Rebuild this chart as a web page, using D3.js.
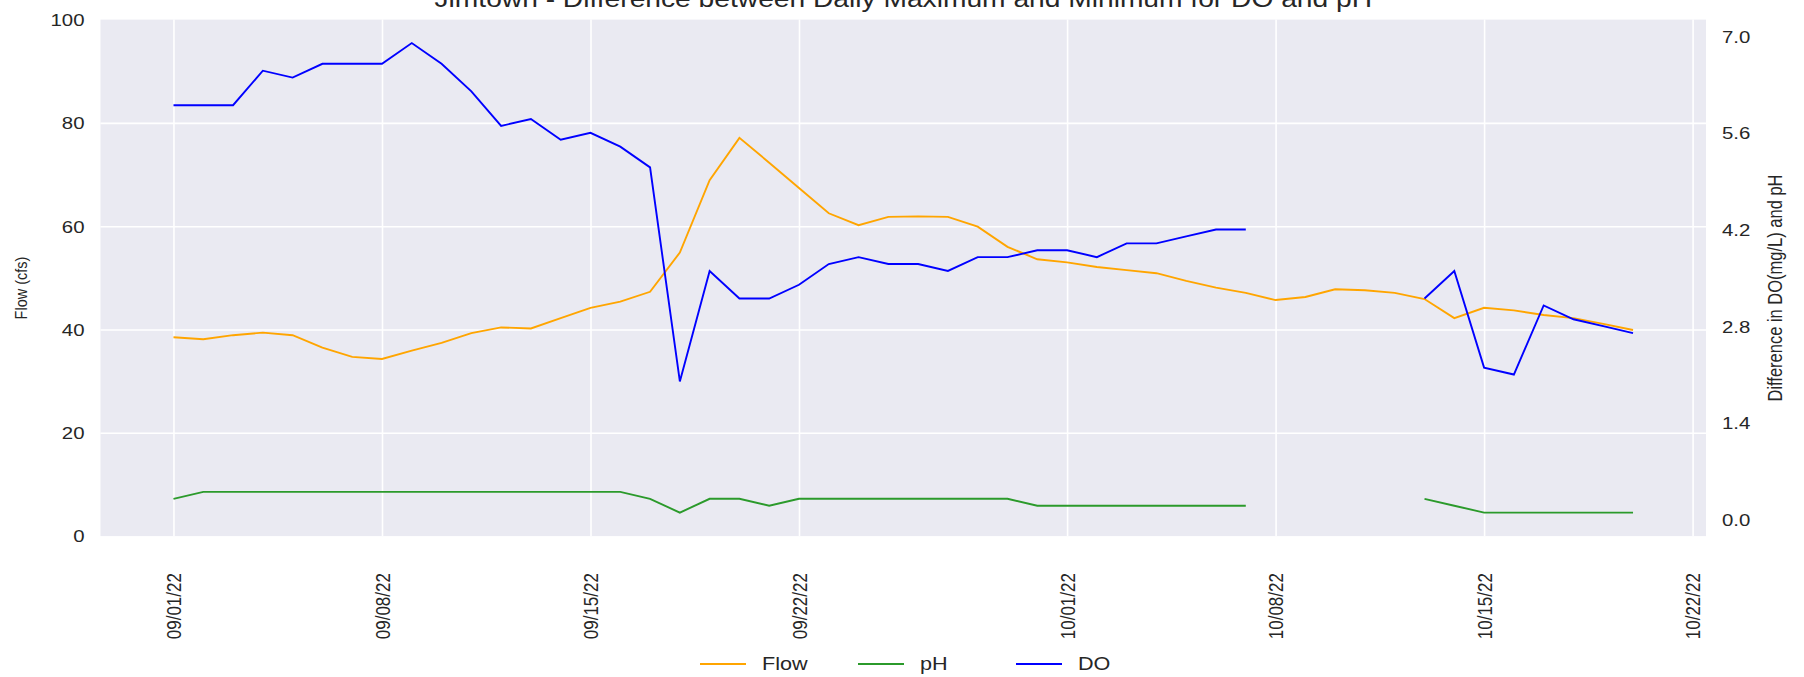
<!DOCTYPE html>
<html>
<head>
<meta charset="utf-8">
<script src="https://cdn.jsdelivr.net/npm/d3@7"></script>
<style>
  html, body { margin: 0; padding: 0; background: #ffffff; }
  svg { display: block; }
  text { font-family: "Liberation Sans", Arial, sans-serif; fill: #262626; }
</style>
</head>
<body>
<svg id="chart" width="1804" height="677"></svg>
<script>
// ---------- data ----------
const startDate = "2022-09-01";
const dayCount = 50; // 09/01/22 .. 10/20/22
const flow = [38.5, 38.1, 38.9, 39.4, 38.9, 36.5, 34.7, 34.3, 35.9, 37.4,
              39.3, 40.4, 40.2, 42.2, 44.2, 45.4, 47.3, 54.9, 68.9, 77.1,
              72.3, 67.4, 62.5, 60.2, 61.8, 61.9, 61.8, 59.9, 56.0, 53.6,
              53.0, 52.1, 51.5, 50.9, 49.4, 48.1, 47.1, 45.7, 46.3, 47.8,
              47.6, 47.1, 45.9, 42.2, 44.2, 43.7, 42.8, 42.2, 41.1, 39.9];
const ph = [0.3, 0.4, 0.4, 0.4, 0.4, 0.4, 0.4, 0.4, 0.4, 0.4,
            0.4, 0.4, 0.4, 0.4, 0.4, 0.4, 0.3, 0.1, 0.3, 0.3,
            0.2, 0.3, 0.3, 0.3, 0.3, 0.3, 0.3, 0.3, 0.3, 0.2,
            0.2, 0.2, 0.2, 0.2, 0.2, 0.2, 0.2, null, null, null,
            null, null, 0.3, 0.2, 0.1, 0.1, 0.1, 0.1, 0.1, 0.1];
const dO = [6.0, 6.0, 6.0, 6.5, 6.4, 6.6, 6.6, 6.6, 6.9, 6.6,
            6.2, 5.7, 5.8, 5.5, 5.6, 5.4, 5.1, 2.0, 3.6, 3.2,
            3.2, 3.4, 3.7, 3.8, 3.7, 3.7, 3.6, 3.8, 3.8, 3.9,
            3.9, 3.8, 4.0, 4.0, 4.1, 4.2, 4.2, null, null, null,
            null, null, 3.2, 3.6, 2.2, 2.1, 3.1, 2.9, 2.8, 2.7];
const leftTicks = [0, 20, 40, 60, 80, 100];
const rightTicks = [0.0, 1.4, 2.8, 4.2, 5.6, 7.0];
const dateTicks = ["2022-09-01", "2022-09-08", "2022-09-15", "2022-09-22",
                   "2022-10-01", "2022-10-08", "2022-10-15", "2022-10-22"];
const seriesNames = ["Flow", "pH", "DO"];
const seriesColors = ["#FFA500", "#2b9a2b", "#0000FF"];
const titleText = "Jimtown - Difference between Daily Maximum and Minimum for DO and pH";
const leftLabel = "Flow (cfs)";
const rightLabel = "Difference in DO(mg/L) and pH";

// ---------- layout ----------
const SX = 1.2; // horizontal stretch of text seen in the reference
const plot = { left: 100.5, right: 1706, top: 19.6, bottom: 536.1 };
const parse = d3.timeParse("%Y-%m-%d");
const DAY = 86400000;
const t0 = parse(startDate);
const dates = d3.range(dayCount).map(i => new Date(t0.getTime() + i * DAY));
const pad = 0.05 * (dayCount - 1) * DAY;

const x = d3.scaleTime()
  .domain([new Date(dates[0].getTime() - pad), new Date(dates[dayCount - 1].getTime() + pad)])
  .range([plot.left, plot.right]);
const yL = d3.scaleLinear().domain([0, 100]).range([plot.bottom, plot.top]);
const yR = d3.scaleLinear().domain([-0.24, 7.24]).range([plot.bottom, plot.top]);

const svg = d3.select("#chart");

// plot background
svg.append("rect")
  .attr("x", plot.left).attr("y", plot.top)
  .attr("width", plot.right - plot.left).attr("height", plot.bottom - plot.top)
  .attr("fill", "#EAEAF2");

// grid
const gridX = svg.append("g")
  .attr("transform", `translate(0,${plot.bottom})`)
  .call(d3.axisBottom(x).tickValues(dateTicks.map(parse))
        .tickSize(-(plot.bottom - plot.top)).tickFormat(""));
const gridY = svg.append("g")
  .attr("transform", `translate(${plot.left},0)`)
  .call(d3.axisLeft(yL).tickValues(leftTicks.filter(v => v > 0 && v < 100))
        .tickSize(-(plot.right - plot.left)).tickFormat(""));
[gridX, gridY].forEach(g => {
  g.select(".domain").remove();
  g.selectAll("line").attr("stroke", "#ffffff").attr("stroke-width", 1.6);
});

// lines
const lineL = d3.line().defined(d => d.v != null).x(d => x(d.t)).y(d => yL(d.v));
const lineR = d3.line().defined(d => d.v != null).x(d => x(d.t)).y(d => yR(d.v));
const toPts = arr => arr.map((v, i) => ({ t: dates[i], v }));

svg.append("path").datum(toPts(flow)).attr("d", lineL)
  .attr("fill", "none").attr("stroke", seriesColors[0]).attr("stroke-width", 1.9);
svg.append("path").datum(toPts(ph)).attr("d", lineR)
  .attr("fill", "none").attr("stroke", seriesColors[1]).attr("stroke-width", 1.9);
svg.append("path").datum(toPts(dO)).attr("d", lineR)
  .attr("fill", "none").attr("stroke", seriesColors[2]).attr("stroke-width", 1.9);

// helper to stretch text horizontally around its anchor
function stretch(sel, rot) {
  sel.each(function () {
    const t = d3.select(this);
    const tx = +t.attr("x") || 0, ty = +t.attr("y") || 0;
    t.attr("x", 0).attr("y", 0)
     .attr("transform", `translate(${tx},${ty}) scale(${SX},1)` + (rot ? ` rotate(${rot})` : ""));
  });
}

// left axis
const axL = svg.append("g").attr("transform", `translate(${plot.left},0)`)
  .call(d3.axisLeft(yL).tickValues(leftTicks).tickSize(0).tickPadding(16).tickFormat(d3.format("d")));
axL.select(".domain").remove();
axL.selectAll("text").attr("font-size", 17).attr("fill", "#262626")
  .attr("dy", null).attr("dominant-baseline", "central")
  .attr("font-family", "Liberation Sans, Arial, sans-serif");
stretch(axL.selectAll("text"));

// right axis
const axR = svg.append("g").attr("transform", `translate(${plot.right},0)`)
  .call(d3.axisRight(yR).tickValues(rightTicks).tickSize(0).tickPadding(16).tickFormat(d3.format(".1f")));
axR.select(".domain").remove();
axR.selectAll("text").attr("font-size", 17).attr("fill", "#262626")
  .attr("dy", null).attr("dominant-baseline", "central")
  .attr("font-family", "Liberation Sans, Arial, sans-serif");
stretch(axR.selectAll("text"));

// bottom axis (rotated dates)
const axB = svg.append("g").attr("transform", `translate(0,${plot.bottom})`)
  .call(d3.axisBottom(x).tickValues(dateTicks.map(parse)).tickSize(0).tickFormat(d3.timeFormat("%m/%d/%y")));
axB.select(".domain").remove();
axB.selectAll("text")
  .attr("font-size", 17).attr("fill", "#262626")
  .attr("font-family", "Liberation Sans, Arial, sans-serif")
  .attr("dy", null).attr("y", 37).attr("x", 0)
  .attr("text-anchor", "end").attr("dominant-baseline", "central");
stretch(axB.selectAll("text"), -90);

// axis labels
svg.append("text").text(leftLabel)
  .attr("font-size", 14.5).attr("text-anchor", "middle").attr("dominant-baseline", "central")
  .attr("transform", `translate(21,288) scale(${SX},1) rotate(-90)`);
svg.append("text").text(rightLabel)
  .attr("font-size", 16.5).attr("text-anchor", "middle").attr("dominant-baseline", "central")
  .attr("transform", `translate(1775,288) scale(${SX},1) rotate(-90)`);

// title
svg.append("text").text(titleText)
  .attr("font-size", 23.5).attr("text-anchor", "middle")
  .attr("transform", `translate(${(plot.left + plot.right) / 2},7) scale(${SX},1)`);

// legend
const legendX = [700, 858, 1016];
const lg = svg.append("g");
seriesNames.forEach((name, i) => {
  lg.append("line")
    .attr("x1", legendX[i]).attr("x2", legendX[i] + 46)
    .attr("y1", 664).attr("y2", 664)
    .attr("stroke", seriesColors[i]).attr("stroke-width", 1.9);
  lg.append("text").text(name)
    .attr("font-size", 18).attr("dominant-baseline", "central")
    .attr("transform", `translate(${legendX[i] + 62},664) scale(${SX},1)`);
});
</script>
</body>
</html>
